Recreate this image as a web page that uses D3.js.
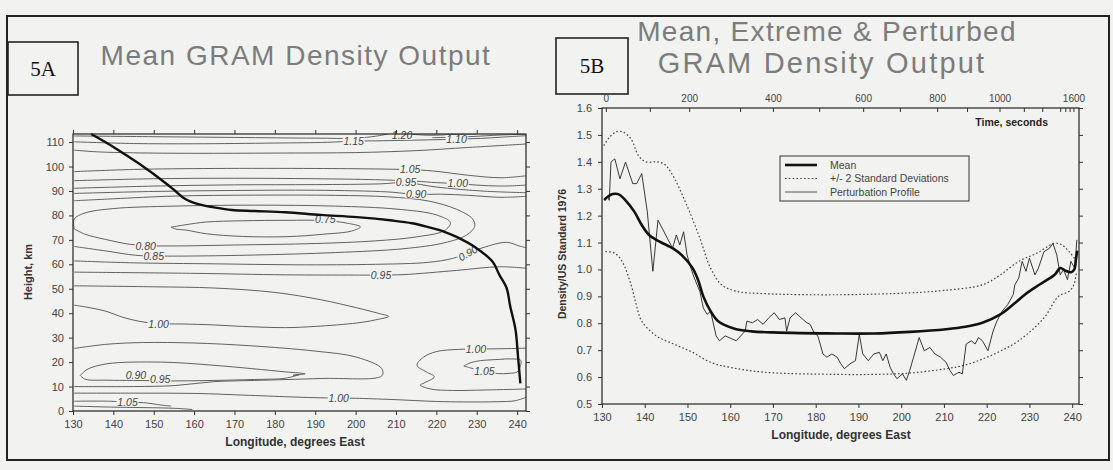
<!DOCTYPE html>
<html><head><meta charset="utf-8">
<script src="https://cdn.jsdelivr.net/npm/d3@7"></script>
<style>body{margin:0;background:#f2f2f0}svg{display:block}</style>
</head><body>
<svg id="c" width="1113" height="470"></svg>
<script>
// ---------------- DATA ----------------
// Panel 5A: tick values
const aXTicks = [130,140,150,160,170,180,190,200,210,220,230,240];
const aYTicks = [0,10,20,30,40,50,60,70,80,90,100,110];
// Panel 5A: mean trajectory (longitude, height km)
const trajectory = [[134.5,113.3],[138.4,109.6],[143,104.8],[147.2,100.2],[151.7,94.8],[155,90.5],[157.8,86.7],[161,84.6],[164.9,83.3],[169.3,82.2],[175,81.8],[182.6,81.3],[191.4,80.2],[200.3,79.3],[209.1,77.9],[214,76.8],[218,75.2],[222,73.3],[225,71.2],[229.5,67.1],[233.9,61.1],[235.6,55.7],[237.4,50.3],[238.3,42.7],[239.6,33.3],[240.2,22.7],[240.8,11.3]];
// Panel 5A: contour lines (longitude, height km)
const contourLines = [
 [[130.3,112.5],[150,112.2],[170,111.9],[190,111.6],[200,111.6],[205,112.4],[208,113.3]],
 [[130.3,110.1],[145,109.4],[160,109.3],[180,109.6],[193,109.9],[199.5,110.4],[205,110.5],[212,110.7],[218,110.9],[225,111.2],[231,111.5],[236,112.0],[242.2,112.6]],
 [[213,113.3],[218,112.8],[226,113.2],[230,113.3]],
 [[219,111.8],[228,112.2],[236,112.9],[242.2,113.2]],
 [[130.3,106.7],[136,106.0],[145,105.6],[160,105.4],[180,105.5],[200,105.7],[215,106.5],[228,107.8],[242.2,109.2]],
 [[130.3,97.9],[145,98.8],[165,99.2],[190,99.2],[205,99.0],[213.5,98.7],[219,98.2],[228,96.4],[236,95.4],[242.2,96.2]],
 [[130.3,94.2],[150,95.0],[170,95.2],[190,95.0],[205,94.6],[215,94.0],[220,93.4],[225.3,93.0],[230,92.4],[236,92.0],[242.2,92.4]],
 [[130.3,91.1],[150,92.0],[170,92.5],[190,92.6],[206,92.9],[212.5,93.4],[220,91.6],[232,89.9],[242.2,89.3]],
 [[130.3,89.0],[150,89.8],[170,90.2],[190,90.3],[208,89.6],[215,88.6],[221,88.7],[228,88.2],[236,87.4],[242.2,87.8]],
 [[130.3,86.0],[140,86.8],[155,87.9],[175,88.3],[195,88.2],[208,87.6],[218,85.9],[225,82.5],[229,78.5],[229.5,75.5],[227.5,72.0],[222,68.8],[212,66.4],[195,64.8],[175,63.8],[160,63.4],[150,63.4],[145.5,63.7],[138,65.5],[130.3,67.3]],
 [[130.3,74.5],[130.3,78.5],[133,81.0],[140,82.8],[155,83.8],[175,84.2],[195,83.8],[210,82.6],[220,80.2],[223.5,77.0],[222,73.8],[215,71.2],[205,69.6],[190,68.5],[170,67.9],[155,67.5],[149,67.6],[144,68.2],[138,70.2],[133,72.3],[130.3,74.5]],
 [[154.3,75.2],[158,76.2],[163,77.3],[172,77.8],[183,78.0],[192,77.9],[198,76.8],[201.2,75.3],[199,73.6],[192,72.3],[183,71.3],[172,71.4],[163,72.5],[158,74.0],[155.5,74.4],[154.3,75.2]],
 [[130.3,61.4],[145,60.6],[165,60.2],[185,59.8],[205,60.0],[218,60.8],[224,62.4],[227.8,64.6],[231.5,66.8],[237.4,69.0],[240.5,67.5],[242.2,66.8]],
 [[130.3,56.8],[160,56.3],[182.6,55.7],[200,55.6],[206.3,55.6],[212,55.8],[225,57.5],[235.6,59.0],[242.2,58.4]],
 [[130.3,51.2],[150,50.8],[165,50.3],[180,48.5],[191.4,45.5],[200.3,42.2],[206,39.8],[208.2,38.7],[205,37.3],[200.3,36.0],[190,34.6],[182.6,34.1],[172,34.6],[164.9,35.2],[157,35.6],[151.2,35.7],[146.4,36.7],[142,38.5],[138.4,40.7],[134,42.3],[130.3,43.3]],
 [[130.3,25.6],[138.4,27.3],[147.2,28.0],[160,27.8],[173.8,26.7],[190,24.5],[200.3,22.0],[206.5,17.3],[206.5,14.4],[191.4,13.3],[175,12.5],[164.9,12.0],[155.2,10.4],[145,10.0],[130.3,10.0]],
 [[131.8,14.5],[133.5,17.0],[138.4,19.3],[151.7,20.0],[164.9,18.7],[182.6,16.0],[187.5,15.2],[184.5,14.6],[186,14.9],[182.6,13.4],[175,12.9],[164.9,12.5],[155,12.3],[145,12.5],[138.4,12.6],[133,13.0],[131.8,14.5]],
 [[130.3,7.3],[145,7.3],[160,7.2],[173.8,6.4],[185,5.7],[191.4,5.4],[195.8,5.3],[200,5.2],[209,4.7],[220,3.9],[226.8,3.7],[235,3.8],[239.5,4.2],[242.2,5.6]],
 [[130.3,4.0],[139,4.0],[143.5,3.6],[147.5,3.4],[152,2.4],[154.3,2.0]],
 [[130.3,2.0],[139.3,1.6],[155.2,1.1],[159.6,0.6]],
 [[242.2,25.7],[237,25.5],[229.8,25.3],[225.5,25.2],[220,24.3],[216.8,22.0],[215.2,18.7],[217.5,16.0],[219.5,14.0],[217,11.5],[216,10.6],[218.6,9.0],[224,8.4],[232,8.6],[242.2,9.0]],
 [[226.8,18.4],[228.5,17.6],[231.9,16.2],[235.2,15.3],[238,15.4],[240,16.0],[240.8,18.5],[240.9,20.7],[238,21.3],[235.6,21.1],[231,20.6],[228.6,19.8],[226.8,18.4]]
];
const contourLabels = [
 {t:"1.20", lon:211.5, h:112.6, a:0},
 {t:"1.15", lon:199.5, h:110.4, a:0},
 {t:"1.10", lon:225, h:111.2, a:0},
 {t:"1.05", lon:213.5, h:98.7, a:0},
 {t:"1.00", lon:225.3, h:93.0, a:0},
 {t:"0.95", lon:212.5, h:93.4, a:0},
 {t:"0.90", lon:215, h:88.6, a:0},
 {t:"0.75", lon:192.5, h:78.3, a:0},
 {t:"0.80", lon:148, h:67.6, a:0},
 {t:"0.85", lon:150, h:63.4, a:0},
 {t:"0.90", lon:227.8, h:64.6, a:-30},
 {t:"0.95", lon:206.3, h:55.6, a:0},
 {t:"1.00", lon:151.2, h:35.7, a:0},
 {t:"1.00", lon:229.8, h:25.3, a:0},
 {t:"1.05", lon:231.9, h:16.2, a:0},
 {t:"0.90", lon:145.6, h:14.6, a:0},
 {t:"0.95", lon:151.6, h:12.8, a:0},
 {t:"1.00", lon:195.8, h:5.3, a:0},
 {t:"1.05", lon:143.5, h:3.6, a:0}
];

// Panel 5B: tick values
const bXTicks = [130,140,150,160,170,180,190,200,210,220,230,240];
const bYTicks = [0.5,0.6,0.7,0.8,0.9,1.0,1.1,1.2,1.3,1.4,1.5,1.6];
// Panel 5B: time axis (seconds) and the longitude reached at that time
const timeTicks = [0,100,200,300,400,500,600,700,800,900,1000,1100,1200,1300,1400,1500,1600];
const timeLon   = [130.9,141.2,150.4,162.3,170.0,180.8,191.1,199.7,208.4,215.4,223.0,228.7,233.0,237.2,238.4,239.4,240.3];
const timeLabels = [0,200,400,600,800,1000,1600];
// Panel 5B series (longitude, density ratio)
const meanSeries = [[130.5,1.258],[131.5,1.272],[132.5,1.28],[133.8,1.28],[135.5,1.257],[137.6,1.214],[139.3,1.165],[141,1.128],[142.7,1.11],[145.3,1.089],[146.5,1.079],[148.6,1.054],[151.2,1.005],[152.5,0.96],[153.7,0.9],[155.4,0.845],[157,0.81],[158.5,0.795],[161.4,0.778],[165,0.77],[170,0.766],[185,0.762],[193.6,0.762],[202,0.768],[210.5,0.778],[215,0.787],[219,0.802],[223.2,0.833],[226.6,0.875],[229.2,0.91],[232.5,0.945],[235.9,0.98],[237.2,1.005],[238.5,0.995],[239.8,0.99],[240.5,1.0],[240.9,1.04],[241.2,1.07]];
const upperSeries = [[130.4,1.46],[131.7,1.49],[133.4,1.512],[135,1.51],[136.8,1.485],[138.5,1.424],[140.2,1.4],[142.7,1.4],[144.4,1.393],[146.1,1.362],[149.5,1.251],[152.9,1.116],[155.4,1.005],[158,0.943],[161.4,0.919],[168.1,0.91],[185,0.906],[202,0.913],[210,0.922],[219,0.943],[223.2,0.98],[227.5,1.03],[231.7,1.06],[235.9,1.097],[237.6,1.091],[239.3,1.066],[240.8,1.036]];
const lowerSeries = [[130.8,1.066],[133,1.06],[134.7,1.03],[136.8,0.943],[138,0.87],[139.3,0.808],[142.7,0.753],[146.9,0.722],[151.2,0.692],[155.4,0.655],[159.7,0.637],[168.1,0.618],[185,0.61],[193.6,0.61],[202,0.615],[210.5,0.631],[215,0.645],[219,0.667],[223,0.695],[227.5,0.735],[233.4,0.82],[236.8,0.9],[239.3,0.919],[240.4,0.943],[241,0.99]];
const perturbSeries = [[130.7,1.257],[131.3,1.27],[131.7,1.257],[132.1,1.399],[133,1.411],[134.2,1.337],[135.5,1.399],[137.2,1.319],[138.1,1.319],[139.3,1.356],[140.6,1.214],[141.9,0.993],[143.1,1.183],[145.3,1.116],[146.5,1.079],[147.4,1.128],[148.2,1.091],[149.1,1.14],[149.9,1.054],[150.8,1.005],[151.6,0.968],[152.9,0.918],[153.7,0.857],[154.6,0.833],[155.4,0.845],[156.7,0.753],[157.5,0.735],[158.8,0.753],[161.4,0.735],[163.5,0.771],[163.9,0.808],[165.2,0.802],[166.4,0.814],[167.7,0.796],[169,0.82],[170.3,0.839],[171.5,0.814],[172.8,0.82],[173.2,0.771],[174,0.82],[175.3,0.839],[176.6,0.82],[177.9,0.802],[178.7,0.796],[179.6,0.765],[180.5,0.753],[181.7,0.686],[182.6,0.674],[183.8,0.686],[185,0.674],[185.9,0.649],[186.7,0.631],[188,0.649],[189.3,0.661],[190.2,0.759],[191,0.686],[192.3,0.661],[193.6,0.686],[194.9,0.692],[195.7,0.661],[196.5,0.686],[197.4,0.637],[198.2,0.612],[199,0.594],[200.3,0.612],[201.2,0.588],[202,0.625],[202.9,0.674],[204.2,0.747],[205.4,0.698],[206.7,0.71],[207.9,0.686],[209.2,0.674],[210.5,0.655],[211.4,0.625],[212.2,0.606],[213.5,0.618],[214.3,0.612],[215.2,0.723],[216.4,0.735],[217.3,0.723],[218.1,0.747],[219,0.735],[220.3,0.698],[221.5,0.771],[222.4,0.808],[223.6,0.845],[224.9,0.869],[226.2,0.906],[226.6,0.943],[227.5,0.968],[228.3,1.03],[229.2,0.993],[230,1.042],[231.3,0.98],[232.1,1.005],[233.4,1.066],[234.7,1.079],[235.5,1.097],[236.4,1.054],[237.2,0.98],[238,1.0],[238.9,0.962],[239.7,1.03],[240.6,1.005],[241.1,1.11]];
const legendItems = ["Mean","+/- 2 Standard Deviations","Perturbation Profile"];

// ---------------- DRAW ----------------
const svg = d3.select("#c");
const FONT = "'Liberation Sans', Arial, sans-serif";
const BG = "#f2f2f0";
svg.append("rect").attr("width",1113).attr("height",470).attr("fill",BG);
svg.append("rect").attr("x",7).attr("y",16).attr("width",1102).attr("height",444)
  .attr("fill","none").attr("stroke","#222").attr("stroke-width",2);

function styleAxis(g){
  g.select(".domain").remove();
  g.selectAll(".tick line").attr("stroke","#333").attr("stroke-width",1);
  g.selectAll(".tick text").attr("fill","#444").style("font-family",FONT).style("font-size","11px");
}

// labelled boxes and titles
function figBox(x,y,w,h,t){
  svg.append("rect").attr("x",x).attr("y",y).attr("width",w).attr("height",h)
    .attr("fill","none").attr("stroke","#222").attr("stroke-width",1.6);
  svg.append("text").attr("x",x+w/2).attr("y",y+h/2+7).attr("text-anchor","middle")
    .style("font-family","'Liberation Serif','Times New Roman',serif").style("font-size","21px").attr("fill","#111").text(t);
}
figBox(8,42,70,53,"5A");
figBox(556,38,72,56,"5B");
function title(x,y,t,ls,fs){
  svg.append("text").attr("x",x).attr("y",y).attr("text-anchor","middle")
    .style("font-family",FONT).style("font-size",fs+"px").style("letter-spacing",ls+"px")
    .attr("fill","#7c7c7c").text(t);
}
title(296,65,"Mean GRAM Density Output",1.5,28);
title(827,41,"Mean, Extreme & Perturbed",1.3,28);
title(822,73,"GRAM Density Output",2.2,29);

// ===== Panel A =====
const xA = d3.scaleLinear([130,242.2],[73,526]);
const yA = d3.scaleLinear([0,113.3],[411,134]);
const gA = svg.append("g");
svg.append("clipPath").attr("id","clipA").append("rect")
  .attr("x",73).attr("y",134).attr("width",453).attr("height",277);
const lineA = d3.line().x(d=>xA(d[0])).y(d=>yA(d[1])).curve(d3.curveCatmullRom.alpha(0.5));
gA.append("g").attr("clip-path","url(#clipA)").selectAll("path").data(contourLines).join("path")
  .attr("d",lineA).attr("fill","none").attr("stroke","#5a5a5a").attr("stroke-width",0.95);
// contour labels with masking background
const lab = gA.append("g").selectAll("g").data(contourLabels).join("g")
  .attr("transform",d=>`translate(${xA(d.lon)},${yA(d.h)}) rotate(${d.a})`);
lab.append("rect").attr("x",-11).attr("y",-4).attr("width",22).attr("height",8).attr("fill",BG);
lab.append("text").attr("text-anchor","middle").attr("dy","0.36em")
  .style("font-family",FONT).style("font-size","10.5px").style("font-style","italic")
  .attr("fill","#444").text(d=>d.t);
// trajectory
gA.append("path").datum(trajectory).attr("d",lineA).attr("fill","none")
  .attr("stroke","#111").attr("stroke-width",2.4);
// frame
gA.append("rect").attr("x",73).attr("y",134).attr("width",453).attr("height",277)
  .attr("fill","none").attr("stroke","#222").attr("stroke-width",1.2);
// axes
gA.append("g").attr("transform","translate(0,411)")
  .call(d3.axisBottom(xA).tickValues(aXTicks).tickSize(4).tickPadding(5)).call(styleAxis);
gA.append("g").attr("transform","translate(0,134)")
  .call(d3.axisTop(xA).tickValues(aXTicks).tickSize(4).tickFormat("")).call(styleAxis);
gA.append("g").attr("transform","translate(73,0)")
  .call(d3.axisLeft(yA).tickValues(aYTicks).tickSize(4).tickPadding(5)).call(styleAxis);
gA.append("g").attr("transform","translate(526,0)")
  .call(d3.axisRight(yA).tickValues(aYTicks).tickSize(4).tickFormat("")).call(styleAxis);
gA.append("text").attr("x",295).attr("y",446).attr("text-anchor","middle")
  .style("font-family",FONT).style("font-size","12px").style("font-weight","bold").attr("fill","#333")
  .text("Longitude, degrees East");
gA.append("text").attr("transform","translate(32,272) rotate(-90)").attr("text-anchor","middle")
  .style("font-family",FONT).style("font-size","11px").style("font-weight","bold").attr("fill","#333")
  .text("Height, km");

// ===== Panel B =====
const xB = d3.scaleLinear([130,241.6],[602,1079]);
const yB = d3.scaleLinear([0.5,1.6],[404,108]);
const gB = svg.append("g");
const lineB = d3.line().x(d=>xB(d[0])).y(d=>yB(d[1]));
const smoothB = d3.line().x(d=>xB(d[0])).y(d=>yB(d[1])).curve(d3.curveCatmullRom.alpha(0.5));
gB.append("path").datum(upperSeries).attr("d",smoothB).attr("fill","none")
  .attr("stroke","#444").attr("stroke-width",1.2).attr("stroke-dasharray","1.6,2.2");
gB.append("path").datum(lowerSeries).attr("d",smoothB).attr("fill","none")
  .attr("stroke","#444").attr("stroke-width",1.2).attr("stroke-dasharray","1.6,2.2");
gB.append("path").datum(perturbSeries).attr("d",lineB).attr("fill","none")
  .attr("stroke","#222").attr("stroke-width",0.9);
gB.append("path").datum(meanSeries).attr("d",smoothB).attr("fill","none")
  .attr("stroke","#111").attr("stroke-width",2.6);
gB.append("rect").attr("x",602).attr("y",108).attr("width",477).attr("height",296)
  .attr("fill","none").attr("stroke","#222").attr("stroke-width",1.2);
gB.append("g").attr("transform","translate(0,404)")
  .call(d3.axisBottom(xB).tickValues(bXTicks).tickSize(4).tickPadding(5)).call(styleAxis);
gB.append("g").attr("transform","translate(602,0)")
  .call(d3.axisLeft(yB).tickValues(bYTicks).tickSize(4).tickPadding(6).tickFormat(d3.format(".1f"))).call(styleAxis);
gB.append("g").attr("transform","translate(1079,0)")
  .call(d3.axisRight(yB).tickValues(bYTicks).tickSize(4).tickFormat("")).call(styleAxis);
const timeScale = d3.scaleLinear(timeTicks, timeLon.map(xB));
gB.append("g").attr("transform","translate(0,108)")
  .call(d3.axisTop(timeScale).tickValues(timeTicks).tickSize(-4).tickPadding(6)
    .tickFormat(d=>timeLabels.includes(d)?d:"")).call(styleAxis)
  .selectAll(".tick text").style("font-size","10px");
gB.append("text").attr("x",1048).attr("y",126).attr("text-anchor","end")
  .style("font-family",FONT).style("font-size","10.5px").style("font-weight","bold").attr("fill","#222")
  .text("Time, seconds");
gB.append("text").attr("x",841).attr("y",439).attr("text-anchor","middle")
  .style("font-family",FONT).style("font-size","12px").style("font-weight","bold").attr("fill","#333")
  .text("Longitude, degrees East");
gB.append("text").attr("transform","translate(566,254) rotate(-90)").attr("text-anchor","middle")
  .style("font-family",FONT).style("font-size","10.5px").style("font-weight","bold").attr("fill","#333")
  .text("Density/US Standard 1976");
// legend
const lg = gB.append("g").attr("transform","translate(780,156)");
lg.append("rect").attr("width",189).attr("height",45).attr("fill",BG).attr("stroke","#333").attr("stroke-width",1);
const li = lg.selectAll("g").data(legendItems).join("g").attr("transform",(d,i)=>`translate(0,${9+i*13.5})`);
li.append("line").attr("x1",5).attr("x2",37).attr("y1",0).attr("y2",0)
  .attr("stroke",(d,i)=>i===0?"#111":"#444")
  .attr("stroke-width",(d,i)=>i===0?2.6:(i===1?1.1:0.9))
  .attr("stroke-dasharray",(d,i)=>i===1?"1.6,2.2":null);
li.append("text").attr("x",50).attr("dy","0.35em")
  .style("font-family",FONT).style("font-size","10.5px").attr("fill","#444").text(d=>d);
</script></body></html>
